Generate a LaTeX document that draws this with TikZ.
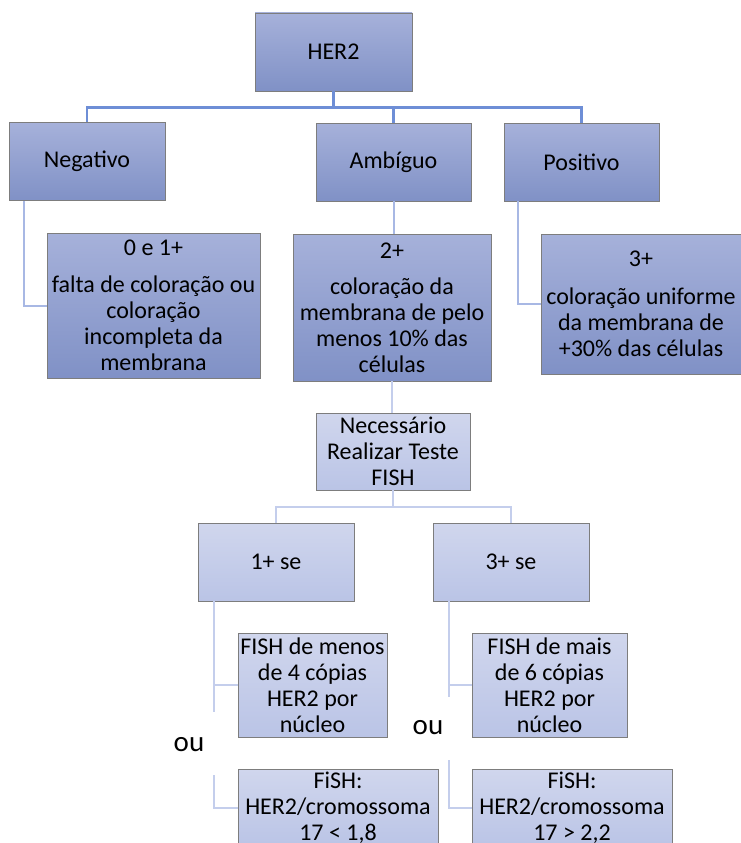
\documentclass[tikz,border=0pt]{standalone}
\usepackage{fontspec}
\setmainfont{Carlito}
\usetikzlibrary{calc}
\definecolor{darktop}{RGB}{166,177,218}
\definecolor{darkbot}{RGB}{128,145,198}
\definecolor{lighttop}{RGB}{208,214,237}
\definecolor{lightbot}{RGB}{186,196,230}
\definecolor{boxedge}{RGB}{125,125,125}
\definecolor{lineA}{RGB}{110,142,214}
\definecolor{lineB}{RGB}{168,184,228}
\definecolor{lineC}{RGB}{196,206,236}
\newcommand\boxfont{\fontsize{24}{26}\selectfont}
\tikzset{
  basebox/.style={draw=boxedge, line width=0.8pt, rectangle, inner sep=0pt,
    align=center, font=\boxfont, text=black},
  darkbox/.style={basebox, top color=darktop, bottom color=darkbot},
  lightbox/.style={basebox, top color=lighttop, bottom color=lightbot},
  topline/.style={draw=lineA, line width=2.2pt},
  midline/.style={draw=lineB, line width=2pt},
  lowline/.style={draw=lineC, line width=2pt},
  orlabel/.style={font=\fontsize{29}{30}\selectfont, inner sep=0pt}
}
\begin{document}
\begin{tikzpicture}[x=1pt,y=-1pt]
\clip (0,0) rectangle (741,843);
\useasboundingbox (0,0) rectangle (741,843);
% level 1
\node[darkbox, minimum width=157pt, minimum height=78pt] (her2) at (333.5,52) {HER2};
% level 2
\node[darkbox, minimum width=156pt, minimum height=78pt] (neg) at (87,161.5) {Negativo};
\node[darkbox, minimum width=155pt, minimum height=78pt] (amb) at (393.5,162) {Ambíguo};
\node[darkbox, minimum width=155pt, minimum height=78pt] (pos) at (581.5,162) {Positivo};
% level 3
\node[darkbox, minimum width=213pt, minimum height=145pt] (zero) at (153.5,305.5)
  {0 e 1+\\[11pt] falta de coloração ou\\ coloração\\ incompleta da\\ membrana};
\node[darkbox, minimum width=198pt, minimum height=147pt] (two) at (392,307.5)
  {2+\\[10pt] coloração da\\ membrana de pelo\\ menos 10\% das\\ células};
\node[darkbox, minimum width=200pt, minimum height=140pt] (three) at (641,304)
  {3+\\[12pt] coloração uniforme\\ da membrana de\\ +30\% das células};
% FISH level
\node[lightbox, minimum width=154pt, minimum height=77pt] (nec) at (393,451.5)
  {Necessário\\ Realizar Teste\\ FISH};
\node[lightbox, minimum width=156pt, minimum height=78pt] (ones) at (276,562) {1+ se};
\node[lightbox, minimum width=156pt, minimum height=78pt] (threes) at (511,562) {3+ se};
\node[lightbox, minimum width=149pt, minimum height=104pt] (fmenos) at (312.5,685)
  {FISH de menos\\ de 4 cópias\\ HER2 por\\ núcleo};
\node[lightbox, minimum width=155pt, minimum height=104pt] (fmais) at (549.5,685)
  {FISH de mais\\ de 6 cópias\\ HER2 por\\ núcleo};
\node[lightbox, minimum width=200pt, inner ysep=3pt, anchor=north] (fish1) at (338,769)
  {FiSH:\\ HER2/cromossoma\\ 17 < 1,8};
\node[lightbox, minimum width=200pt, inner ysep=3pt, anchor=north] (fish2) at (572,769)
  {FiSH:\\ HER2/cromossoma\\ 17 > 2,2};
% or labels
\node[orlabel] (or1) at (189,745) {ou};
\node[orlabel] (or2) at (428,728) {ou};
% helper coordinates
\coordinate (ya) at (0,685);
\coordinate (yb) at (0,808);
\coordinate (l1end) at (214,712);
\coordinate (l2start) at (214,775);
\coordinate (r1end) at (448.5,697);
\coordinate (r2start) at (448.5,760);
% connectors
\draw[topline] (her2.south) -- ++(0,16) -| (neg.north);
\draw[topline] (her2.south) -- ++(0,16) -| (amb.north);
\draw[topline] (her2.south) -- ++(0,16) -| (pos.north);
\draw[midline] ($(neg.south west)+(15,0)$) |- (zero.west);
\draw[midline] (amb.south) -- (amb.south |- two.north);
\draw[midline] ($(pos.south west)+(14,0)$) |- (three.west);
\draw[lowline] (two.south) -- (two.south |- nec.north);
\draw[lowline] (nec.south) -- ++(0,17) -| (ones.north);
\draw[lowline] (nec.south) -- ++(0,17) -| (threes.north);
\draw[lowline] (ones.south -| l1end) -- (l1end);
\draw[lowline] (l1end |- fmenos.west) -- (fmenos.west);
\draw[lowline] (l2start) |- (fish1.west |- yb);
\draw[lowline] (threes.south -| r1end) -- (r1end);
\draw[lowline] (r1end |- fmais.west) -- (fmais.west);
\draw[lowline] (r2start) |- (fish2.west |- yb);
\end{tikzpicture}
\end{document}
